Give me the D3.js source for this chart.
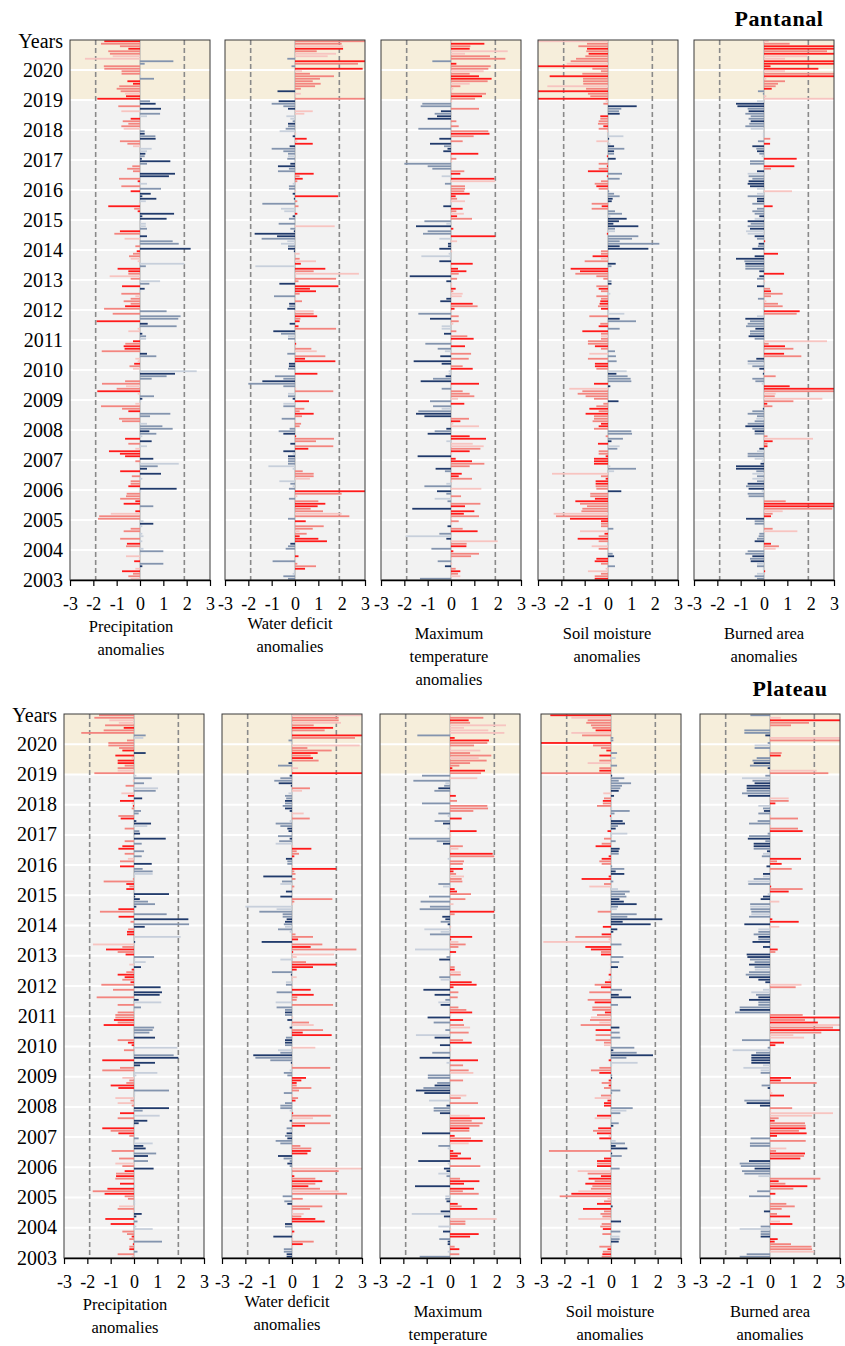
<!DOCTYPE html>
<html>
<head>
<meta charset="utf-8">
<script src="https://cdnjs.cloudflare.com/ajax/libs/d3/7.8.5/d3.min.js"></script>
<style>
body { margin: 0; background: #fff; }
svg text { font-family: 'Liberation Serif', 'Times New Roman', serif; fill: #000; }
</style>
</head>
<body>
<div id="chart"></div>
<script>
// ---- data: monthly anomalies, one row per year (Jan..Dec), 2003-2020 ----
const years = d3.range(2003, 2021);
const axisTicks = [-3, -2, -1, 0, 1, 2, 3];
const regionNames = ['Pantanal', 'Plateau'];
const varLabels = [['Precipitation', 'anomalies'], ['Water deficit', 'anomalies'],
    ['Maximum', 'temperature', 'anomalies'], ['Soil moisture', 'anomalies'], ['Burned area', 'anomalies']];
const redWhenNegative = [true, false, false, true, false]; // dry side of each variable
const thresholds = [-1.9, 1.9];
const highlightFrom = 2019;

// tone: D = dark, M = medium, L = light shade of the bar colour
const panPrecip = [
    [-0.4,-0.5,-0.3,-0.77,-0.2,0.1,1.0,-0.25,-0.05,-0.6,0.05,1.0],
    [0.15,-0.6,-0.56,0.1,-0.85,0.15,0.1,-0.7,-0.4,0.1,0.57,0.15],
    [-1.8,-1.75,-1.25,-0.2,0.05,0.57,-0.7,-0.2,-0.85,-0.6,-0.57,0.05],
    [1.57,-0.5,-0.4,-0.4,0.1,-0.35,0.9,-0.85,0.3,0.76,1.66,-0.2],
    [0.57,-0.64,-0.86,-1.33,-0.2,0.3,-0.5,0.5,-0.64,0.1,0.7,0.4],
    [1.4,0.96,0.3,-0.77,-0.9,0.43,1.3,-0.5,-0.77,-1.67,-0.2,0.05],
    [0.1,0.6,-0.1,-1.83,-1.0,-0.6,-1.63,-0.64,0.5,1.14,1.5,2.43],
    [-0.3,-0.45,-0.25,-0.1,-0.2,0.7,0.3,-1.64,-0.66,-0.7,-0.63,-0.3],
    [0.26,0.26,0.1,-0.5,-0.1,1.57,0.33,-1.86,1.64,1.74,-1.17,1.14],
    [-1.54,-0.64,-0.4,-0.7,-0.4,-0.2,-0.8,0.05,0.2,-0.77,0.4,0.86],
    [-0.4,-1.3,-0.5,-0.5,-0.96,0.25,1.9,-0.1,-0.4,-0.47,-0.3,-0.14],
    [2.17,-0.2,1.66,1.4,-0.66,0.3,-1.1,-0.86,0.3,0.25,0.25,0.05],
    [1.14,0.1,1.46,-0.1,-0.25,-1.36,-0.05,0.25,0.7,0.1,0.46,-0.4],
    [0.9,-0.8,0.3,-0.1,-0.9,1.24,1.5,-0.3,-0.55,-0.33,0.3,1.3],
    [0.08,0.2,0.23,0.3,0.5,-0.3,-0.54,-0.86,0.67,0.66,0.2,0.2],
    [-0.7,-0.8,-0.5,-0.74,-0.4,0.3,0.86,-0.8,0.9,-0.93,0.67,0.43],
    [-1.83,-0.6,-0.64,-0.83,-1.0,-0.89,-0.3,-0.54,0.6,0.05,-0.79,-0.79],
    [-1.53,-1.55,0.2,1.43,-2.36,-1.17,-1.29,-1.36,-0.5,-0.86,-1.67,-1.53]
];
const panPrecipTone = ['LMMDLDMDLLLM','LMDLMLLMMLDL','MMLDLMDDMMML','DDMMLMDDDMLM','DDDDLLMDDLMD','MMLMMMMDMMLL',
    'DMLDMLMMMMDL','LMDLLMDMDDMD','LMDLLMDDMMMM','MDMMMLMLDDML','MLMDDMLLLMMD','DMMMLDMDMLLL',
    'DDDDMDLLDDDD','MMLDMDDMMMMD','DMDLLLMMDMDM','LMMMDLMLDMDM','DDLMMMDDMLMM','MMMMLLMMDMMD'];

const panDeficit = [
    [-0.3,-0.5,-0.1,-0.05,0.43,0.9,0.1,-0.96,0.05,0.15,0.0,0.0],
    [-0.4,-0.3,-0.2,1.37,1.0,0.2,0.5,0.2,0.76,1.23,0.05,0.46],
    [-0.3,2.33,2.0,1.2,0.67,0.97,1.3,1.0,-0.26,0.1,2.0,3.0],
    [-0.26,-0.1,-0.2,-0.67,0.64,0.8,0.8,0.33,-0.1,-1.14,-0.3,-0.3],
    [-0.3,-0.3,-0.1,-0.5,0.57,1.64,-0.2,0.9,1.67,0.05,-0.5,-0.7],
    [-0.23,0.2,0.26,0.05,-0.57,0.3,0.8,0.2,0.4,-0.5,-0.5,0.6],
    [-0.1,-0.3,-0.3,1.64,0.05,-0.5,-2.0,-1.4,-0.5,-0.86,0.96,0.0],
    [-0.3,-0.26,-0.26,1.73,0.43,1.3,-0.33,0.93,0.7,0.05,0.05,0.0],
    [-0.3,-0.3,-0.6,-0.93,1.76,0.15,-0.23,0.2,0.23,0.95,0.8,0.8],
    [-0.33,-0.25,-0.25,0.3,0.05,-0.9,0.2,0.9,0.64,1.86,-0.67,0.15],
    [1.76,0.05,2.74,0.8,1.3,-1.7,0.25,0.9,0.2,0.0,0.2,-0.05],
    [-0.3,-0.3,-0.6,-0.33,-1.43,-0.77,-1.73,-0.05,-0.2,1.7,-0.7,-0.05],
    [-0.26,-0.1,0.1,-0.46,-0.6,0.15,-1.4,0.1,-0.05,1.85,-0.1,0.05],
    [-0.26,-0.26,-0.1,0.1,0.33,0.2,0.8,-0.73,-0.26,-0.73,-0.2,-0.05],
    [-0.33,-0.3,-0.3,-0.5,-1.0,-0.23,0.76,0.1,0.5,-0.1,0.05,-0.66],
    [-0.4,-0.3,-0.3,-0.1,-0.2,-0.37,0.4,0.76,-0.3,-0.5,-1.0,-0.7],
    [3.0,0.05,0.25,-0.75,0.25,0.86,1.1,0.76,1.07,1.67,0.64,0.3],
    [2.9,-0.15,2.7,3.0,-0.33,1.4,1.76,0.93,2.06,2.06,2.0,3.0]
];
const panDeficitTone = ['MMLLDMMMLDLL','MMDDDDMLMMLD','MMLMMDDMMLMD','MLMLLMMMLLMM','MDLDDMDMMDDM','MMMLMMDMMMLD',
    'DMLMLMMDMMDL','MDDDDMMLMLDL','MLMDMDDDMDML','DMDMLMMDDDDM','MLLMDLDLMLLD','DMLLMDDDMLML',
    'MDDLLMMMDDDL','MMLMDMDMMDDL','MLMMMDDLDDLL','MMDMLLLLDMMD','MLLDMMMMMMML','DMMDMLLMDLMM'];

const panTmax = [
    [-1.33,0.4,0.3,0.4,0.2,-0.26,0.05,-0.57,0.05,0.86,1.2,0.1],
    [-0.84,0.66,0.67,2.0,-0.2,-1.94,-0.5,1.14,0.5,-0.15,0.05,0.33],
    [0.05,1.2,0.55,1.0,-1.66,0.6,1.26,-0.15,-0.7,0.43,-0.2,-0.6],
    [1.3,-1.14,-0.2,0.05,0.9,0.33,0.46,-0.26,-0.66,0.8,1.43,0.9],
    [0.2,-1.43,0.05,0.8,1.26,1.4,0.93,-0.2,1.5,0.8,-1.0,-0.7],
    [-0.2,1.2,0.1,0.4,0.77,-1.14,-1.5,-1.4,-0.4,-0.77,0.57,-0.9],
    [0.3,1.0,0.8,0.5,-0.4,0.05,1.2,-1.3,-0.77,-0.23,-0.1,-0.1],
    [0.93,0.5,-0.4,-1.6,0.76,-0.46,0.86,-0.26,-0.57,0.6,-1.1,0.05],
    [0.97,0.7,-0.3,0.23,-0.4,-0.4,0.1,0.33,-0.9,0.33,-1.4,0.05],
    [0.15,1.14,0.93,-0.46,-0.2,0.46,0.5,0.1,0.2,0.05,0.05,-0.2],
    [0.26,-1.77,0.33,0.66,0.3,0.05,0.93,-0.5,-0.05,-1.27,-0.1,0.05],
    [-0.5,-0.13,-0.13,0.26,-0.5,1.9,-1.2,-1.0,0.1,-1.5,-0.2,-1.14],
    [0.9,0.26,0.55,0.23,0.5,-0.33,-0.05,0.6,0.26,0.2,0.8,0.57],
    [0.6,0.6,-0.26,1.9,1.86,-0.4,0.4,0.57,-0.8,-1.0,-2.0,0.05],
    [0.23,0.05,1.17,-0.33,-0.15,-0.3,-0.9,0.5,-0.5,0.97,1.65,1.6],
    [-1.4,0.33,0.05,0.23,-1.0,-0.6,-0.7,-0.43,1.2,-1.3,-1.23,0.05],
    [1.03,1.33,1.5,0.05,0.1,0.4,0.8,1.57,1.74,1.2,0.8,1.4],
    [1.6,1.7,0.23,-0.8,2.33,1.67,0.6,2.43,0.8,0.83,1.43,0.05]
];
const panTmaxTone = ['MLMDMDLMLMMD','MDMLDLMDMDLM','LMDDDDMMLMMD','LMLLMDDMDMMD','DDLDMLLLDDDM','DLLDMDDMLMDM',
    'LMMMMLDDMDLL','DMDDMDMLMDML','DMDMLLLMDMML','DMDDDLLMDLLD','MDMDDLDDLLLL','DDDLLDMMDDLM',
    'MDLMDDLLMDDM','MMMLDLDMMMML','MLDDDMDMDMDM','MMLMDDMDMMML','MDMLLMLMDDML','MMDMMMLLDMDL'];

const panSoil = [
    [-0.57,-0.57,-0.3,-0.86,-0.1,0.3,-0.3,-0.57,-0.5,0.26,0.2,0.05],
    [-0.4,-0.7,0.05,-0.4,-1.3,-0.4,-0.15,-1.2,0.23,-0.3,-0.3,-0.3],
    [-1.63,-2.23,-2.33,-1.14,-1.1,-0.9,-1.2,-1.4,-0.56,-0.76,-0.76,0.57],
    [-0.5,-0.53,-0.53,-0.53,-0.1,-0.3,-2.4,0.26,1.2,0.1,-0.6,-0.6],
    [-0.6,-0.1,-0.4,-0.4,0.4,0.5,-0.43,0.15,0.64,-0.1,1.03,1.0],
    [-0.6,-0.4,-0.3,-0.66,-0.6,-0.6,-0.96,-0.4,-0.8,-0.5,-0.2,0.45],
    [-0.6,-0.96,-1.3,-1.1,-1.66,0.1,-0.6,1.0,0.97,0.84,0.36,0.8],
    [-0.5,-0.56,-0.56,0.37,-0.86,0.34,-0.8,0.3,-0.3,-0.56,-0.86,-0.86],
    [-0.3,-0.3,-0.3,-1.1,0.5,-0.4,-0.33,1.2,0.5,-0.8,0.7,0.05],
    [-0.3,-0.43,-0.36,-0.33,-0.3,-0.5,0.1,-0.3,-0.4,-0.5,0.15,0.15],
    [-0.2,-0.5,-1.4,-1.2,-1.6,0.15,0.33,-1.0,-0.3,-0.66,-0.3,-0.3],
    [1.73,0.5,2.2,0.5,1.03,1.3,-0.05,0.3,0.3,1.3,0.23,0.47],
    [0.8,0.1,0.6,0.3,-0.7,-0.27,-0.7,0.16,0.2,0.5,0.26,0.05],
    [-0.4,-0.5,-0.57,-0.3,0.5,-0.05,0.6,-0.86,-0.4,-0.05,-0.4,0.05],
    [0.33,-0.05,0.26,0.26,0.7,0.26,0.1,-0.5,0.05,0.66,0.05,-0.05],
    [-0.4,-0.2,-0.43,-0.4,-0.33,-0.33,0.5,0.47,0.57,1.23,-0.2,-0.1],
    [-3.0,-0.76,-0.86,-3.0,-0.94,-2.6,-1.06,-1.07,-1.07,-2.5,-1.1,-0.3],
    [-0.67,-3.0,-1.77,-1.6,-1.37,-0.97,-0.83,-0.93,-0.9,-1.27,-0.9,-3.0]
];
const panSoilTone = ['DMMLLMMDDDML','MLLMDMDLMMMD','DMLMMMMDDMMD','MMDDDMLLMLDD','DDMMMLDDMMMM','MDDMMMDMDMMD',
    'MMMMLDDMMMDL','MDDMMMLMMDMM','MLMDMDMMDMLL','DMDDMMLMDMDM','MMMDDMDMLDMM','DDMMMMDLMDDD',
    'DLMMMDMDDMMM','MDMMMDMDMDML','DDMDMDLLDLLL','MDMMMDDMMDML','DMMDMLMMMDMM','MDLMMMDMDMML'];

const panBurn = [
    [-0.3,-0.4,-0.3,0.05,-0.05,-0.3,-0.3,-0.57,-0.6,-0.5,-0.8,-0.7],
    [0.5,0.64,0.3,-0.4,-0.3,-0.23,-0.2,1.43,0.37,-0.05,-0.4,-0.4],
    [-0.77,0.3,0.37,0.8,2.93,3.0,3.0,0.93,-0.05,-0.66,-0.7,-0.1],
    [-0.66,-0.77,-0.7,-0.3,-0.5,-0.3,-0.5,-0.33,-1.2,-1.2,-0.15,-0.1],
    [-0.4,-0.7,-0.7,-0.3,-0.2,0.15,0.15,0.37,2.1,0.15,-0.4,-0.4],
    [-0.5,-0.8,-0.7,-0.4,-0.33,-0.3,-0.7,-0.5,-0.05,0.36,0.14,1.26],
    [2.5,0.46,0.5,3.0,3.0,1.1,-0.1,-0.37,-0.5,0.5,-0.05,0.05],
    [-0.2,-0.5,-0.7,-0.7,-0.33,1.6,0.86,0.05,1.26,0.9,0.2,2.7],
    [-0.4,-0.66,-0.6,-0.6,-0.37,-0.77,-0.7,-0.6,-0.8,-0.3,1.4,1.53],
    [-0.05,0.8,0.6,0.1,-0.26,0.3,0.8,0.3,0.26,-0.3,-0.05,0.05],
    [-0.3,-0.2,0.86,-0.2,-0.8,-0.8,-0.8,-0.84,-1.2,-0.4,0.6,0.05],
    [-0.5,-0.26,-0.23,0.05,-0.3,-0.4,-0.7,-0.77,-0.6,-0.7,-0.57,-0.7],
    [-0.4,-0.2,-0.4,-0.5,-0.3,0.37,-0.5,-0.3,-0.3,-0.7,-0.3,1.2],
    [-0.3,-0.6,-0.7,-0.66,-0.5,-0.66,-0.7,-0.3,0.3,1.3,-0.6,-0.6],
    [1.4,-0.1,-0.2,-0.3,-0.33,-0.5,0.26,-0.26,0.27,-0.05,-0.05,0.0],
    [-0.57,-0.8,-0.63,-0.57,-0.66,-0.57,-0.8,-0.66,-0.7,-1.14,-1.2,-0.3],
    [3.0,0.1,-0.05,-0.26,0.33,0.5,0.6,0.9,0.1,3.0,3.0,0.9],
    [2.33,0.28,3.0,3.0,0.9,1.86,3.0,2.7,3.0,3.0,1.1,0.2]
];
const panBurnTone = ['MMLDLMLDMDMM','LMDDMMMLMLMM','DDMLMDDMLMML','DMDMLMLMDDDL','LMMLDDMDLMMD','MDMMLMMMDMDM',
    'LMLMDDLMMMDL','DMLMDMDLMDML','MDMMDMMMDLMD','LMMLMMMDMDLL','MDDDMMDMDDDL','DMDDMDLLDMMD',
    'LDMMMDMDDMLL','LDDDMMLDMDMM','DLMDMDDMMLLL','LMMDMMMDMDDL','LLMMDMMMLDML','DDDDLLDMDDML'];

const plaPrecip = [
    [-0.1,-0.7,0.15,-0.2,-0.2,-0.05,1.2,-0.2,-0.1,-0.3,-0.5,0.8],
    [0.1,-1.0,0.15,-1.23,0.1,0.33,-0.05,-0.7,-0.64,0.05,0.05,-0.26],
    [-0.4,-1.26,-1.77,-1.14,0.05,-0.6,-0.05,-0.8,-0.77,-0.77,-0.4,0.84],
    [-0.5,-0.8,0.6,-0.64,0.6,0.95,-0.96,0.5,0.4,0.8,0.05,0.2],
    [-0.2,-0.67,-1.0,-1.36,0.05,0.2,0.57,-0.7,1.1,-0.6,0.37,1.5],
    [-0.1,-0.7,-0.15,-0.8,0.05,0.05,1.5,-0.67,-1.0,-0.33,-0.2,-0.5],
    [0.1,1.0,-1.36,-0.6,0.26,0.9,-1.36,1.9,1.7,0.05,-0.43,1.86],
    [-0.1,-0.26,-0.7,0.9,0.05,0.66,0.8,0.86,-1.3,-0.7,-0.86,-0.8],
    [-0.8,-0.7,0.05,0.3,-0.7,1.17,0.2,-1.6,1.1,1.2,-0.9,1.14],
    [-1.4,-0.15,-0.5,-0.4,-0.7,-0.33,-0.1,0.3,-0.2,0.5,0.05,0.86],
    [-0.36,-0.7,-1.2,-0.5,-1.76,0.05,0.0,2.0,-0.3,-0.3,-0.25,0.46],
    [2.36,-0.15,2.33,-0.66,1.4,-1.46,-0.67,0.1,0.9,0.6,0.25,0.05],
    [1.5,0.05,-0.33,-0.2,-0.33,-1.3,-0.05,0.05,0.8,0.8,0.37,-0.6],
    [0.76,-0.6,-0.26,0.33,-0.4,0.43,-0.67,-0.5,0.33,-0.4,1.36,0.05],
    [0.26,0.23,-0.4,0.57,0.73,0.1,-0.57,-0.67,0.2,0.3,-0.1,-0.05],
    [-0.1,-0.6,0.35,-0.26,-0.54,0.93,1.03,-0.36,0.43,-0.05,0.76,0.1],
    [-1.7,-0.7,-0.7,-0.4,-0.7,-0.7,-0.1,-0.8,0.5,-0.5,-0.64,-1.1],
    [-1.1,-0.3,0.4,0.5,-2.26,-1.3,-0.44,-1.24,-0.65,-1.06,-1.7,-1.5]
];
const plaPrecipTone = ['LMMDMDMMDMML','LDMDDDLMLLLM','MDMDLDLMDMDD','MLMMDMMDDLLM','MDMDLDDMLDMD','MLMLLLMDDMML',
    'LLMMDDDDMLML','DDMDLMMMDMDM','MMLMMLDMDDMD','MDMDDMDDLLLM','DMDMLDLLDDMD','MMDDMMDDMMDD',
    'DLDMDMMLLMMD','DMLMMMDDMMDL','DMMLDDDMMMMD','LDDDLMLMMLML','MLMMDDLDDDMM','MMLMMMDMLLMM'];

const plaDeficit = [
    [-0.23,-0.23,-0.35,-0.35,0.05,0.46,0.93,0.05,-0.8,0.05,0.1,0.0],
    [-0.3,-0.3,1.4,1.0,0.4,0.5,0.05,0.77,1.3,-0.2,-0.33,0.46],
    [-0.4,2.36,2.0,1.2,0.7,1.0,1.3,1.0,0.1,0.05,2.0,3.0],
    [-0.1,-0.2,-0.1,-0.36,-0.6,0.66,0.8,0.83,0.36,-0.5,-0.7,-0.2],
    [-0.3,-0.23,-0.1,-0.23,0.56,1.63,-0.1,0.9,1.66,0.05,-0.1,-0.5],
    [-0.5,-0.3,0.15,0.26,0.05,-0.35,0.3,0.83,0.2,0.2,0.4,0.6],
    [-0.2,-0.35,-0.1,1.64,0.05,-0.05,-0.93,-1.57,-1.66,-0.5,-0.6,1.0],
    [-0.3,-0.3,-0.3,-0.26,1.7,0.46,1.33,-0.1,0.93,0.73,-0.2,0.05],
    [-0.3,-0.3,-0.3,-0.66,1.76,-0.7,0.2,0.23,0.93,-0.66,0.8,0.05],
    [-0.26,-0.26,0.05,0.2,-0.05,-0.86,0.2,0.9,1.9,0.6,-0.5,0.2],
    [1.8,0.05,2.76,0.8,1.3,-1.3,0.26,0.9,0.15,-0.1,-0.6,-0.3],
    [-0.35,-0.3,-0.23,-0.4,-0.4,-1.4,-0.66,-2.0,0.05,0.1,1.73,-0.5],
    [-0.05,-0.26,0.05,0.1,-0.5,-0.43,0.15,-1.23,0.15,0.1,1.9,0.05],
    [-0.2,-0.2,-0.26,0.1,0.3,0.2,0.83,0.05,-0.7,-0.55,-0.1,-0.6],
    [-0.05,-0.15,-0.2,-0.5,-0.7,-0.1,0.76,0.05,0.5,-0.1,-0.3,-0.4],
    [-0.3,-0.3,-0.25,-0.3,-0.15,0.43,0.77,-0.05,-0.57,-0.76,-0.5,-0.1],
    [3.0,0.05,0.26,-0.6,-0.15,1.14,0.9,0.8,1.1,1.7,0.66,2.9],
    [-0.05,-0.15,2.7,3.0,0.05,1.4,1.76,0.93,2.1,2.0,2.0,3.0]
];
const plaDeficitTone = ['DDMMLDMLDLDL','MDDDMLLMMDMM','MMLMDMDMDLML','MDMMDDDMMMMD','MDLMDMDLMDLM','MMDMLMMMMDDD',
    'MMLMLDMMDMLL','MDDMDDMDLMDL','MDMMMLMMDMDL','MLLLDMDDDMLL','LDMDMDDMMLML','MDDMMMLLLMMD',
    'LDLMLMMDMMDL','MMDDMMDLLMDM','LDDMMLMLLDDM','MDMMLLMDDMMD','DLLMDMDMDMML','LMMDLMDMLMML'];

const plaTmax = [
    [-1.3,0.4,-0.1,0.4,0.2,-0.1,-0.1,-0.46,0.86,1.23,-0.3,0.05],
    [-0.5,0.66,0.66,2.0,-0.26,-1.64,-0.4,1.17,0.5,0.33,-0.15,-0.2],
    [-0.2,1.23,0.55,1.03,-1.5,0.6,1.26,0.43,-0.15,-0.5,-0.15,-0.26],
    [1.3,-0.1,-1.36,0.9,0.33,0.47,0.14,-0.1,-0.5,0.8,1.4,0.9],
    [0.2,-1.2,0.83,0.83,1.26,1.4,0.93,1.5,0.85,-0.43,-0.7,-0.7],
    [-0.15,1.2,-0.9,0.46,0.7,-1.1,-1.46,-1.14,-0.66,-0.55,0.56,-0.95],
    [-0.95,1.0,0.8,0.05,0.56,-0.15,1.2,-1.3,-0.05,-0.76,0.05,0.05],
    [-0.43,0.93,0.56,-0.66,-1.46,0.8,-0.2,0.86,0.6,-0.7,0.56,-0.96],
    [0.05,0.95,0.7,0.36,-0.4,-0.5,-0.2,0.33,-0.66,0.36,-1.14,0.15],
    [1.14,0.93,-0.4,-0.46,0.46,0.46,0.2,0.2,0.0,-0.05,-0.46,-0.15],
    [0.05,0.26,-1.5,0.36,0.67,0.36,0.05,0.95,-0.86,-0.4,-1.1,0.05],
    [-0.1,-0.4,-0.2,-0.33,0.2,1.9,-1.3,-0.86,0.15,-1.26,0.66,-0.9],
    [0.9,0.3,0.2,-0.3,-0.5,0.53,0.5,0.6,0.26,0.15,0.55,0.05],
    [0.55,0.6,-0.1,1.9,1.83,0.05,0.36,0.55,-0.3,-0.57,-1.76,0.05],
    [0.05,1.14,-0.1,-0.05,-0.3,-0.66,0.5,-0.1,-0.5,1.0,1.63,1.6],
    [-1.2,0.3,0.05,0.25,0.05,-0.67,-0.5,-0.25,-0.2,-1.57,1.17,-1.2],
    [1.33,1.5,0.1,0.4,0.86,1.57,1.23,1.77,0.86,1.3,0.05,1.03],
    [1.6,1.67,0.2,-1.4,2.33,1.64,0.6,2.4,0.86,0.8,1.43,0.05]
];
const plaTmaxTone = ['MMLDMDDMDDDL','LMMLDLDDMDDM','LMMDDDDMMLDD','MLDDDDDLMLDM','DDMDMMMDLDMM','DMLMLDDMDMMM',
    'MLMLMLDDLMLL','DDMDLMMLMMDD','LDMMDLMMDMDD','DDLMMLDMLLDM','LDLMMLDDMLLL','DMDDMDMMLMMM',
    'MDDLMMMLMDDL','MMLMDLLMDMML','LDLLDMDLMMMM','MMLDLMDMLMLM','MDDMMMLMMLLM','MDDMLLLLMDML'];

const plaSoil = [
    [-0.4,-0.37,-0.35,-0.15,-0.5,0.05,0.33,0.37,0.37,-0.37,0.4,-0.35],
    [-0.46,-0.4,0.43,-1.4,-0.37,-0.45,-0.3,-1.2,0.07,-0.6,-0.3,-0.15],
    [-2.2,-1.7,-1.4,-0.86,-0.8,-1.1,-0.7,-0.96,-0.43,-1.0,-1.43,0.37],
    [-0.6,-0.6,-0.6,-0.3,0.46,0.05,-2.66,0.7,0.2,0.6,0.2,-0.5],
    [-0.1,-0.6,-0.77,-0.55,0.1,0.33,0.05,-0.7,-0.6,0.4,0.66,0.93],
    [-0.3,-0.3,-0.15,-0.7,-0.43,0.05,0.4,-0.3,-0.1,-0.4,-0.1,0.05],
    [0.05,-0.5,-0.86,-0.5,0.05,1.14,-0.1,0.66,1.8,1.1,0.1,1.0],
    [-0.3,-0.3,-0.66,0.4,-0.66,0.37,-0.66,0.36,-1.3,-0.5,-0.9,-0.86],
    [-0.6,-0.26,-0.8,-0.8,0.3,-0.7,-1.0,0.86,0.33,-0.93,0.47,-0.43],
    [-0.7,-0.26,-0.1,0.05,-0.1,-0.05,-0.05,0.3,-0.05,0.35,0.05,0.53],
    [-0.43,-0.43,-0.86,-1.1,0.45,-2.9,-0.1,-1.53,-0.4,0.1,0.27,-0.35],
    [1.7,0.5,2.2,0.7,1.1,-0.57,0.25,0.3,1.1,0.55,0.36,0.66],
    [0.6,0.8,0.3,-0.93,-0.3,0.1,-1.26,-0.1,0.57,0.2,0.57,0.05],
    [-0.4,-0.5,-0.4,-0.1,0.33,0.33,0.37,-0.66,-0.4,0.2,-0.3,0.05],
    [0.7,-0.15,0.2,0.3,0.6,0.5,0.05,-0.05,0.15,0.8,0.05,-0.6],
    [-0.35,-0.35,-0.3,0.13,-0.33,0.33,0.4,0.47,0.86,0.33,0.57,0.05],
    [-3.0,-0.5,-0.5,0.26,-1.0,-0.5,0.2,-0.5,0.26,-0.2,-0.43,-0.77],
    [-3.0,0.1,0.1,-1.24,-1.7,-0.66,-0.8,-0.86,-1.06,-1.0,-1.7,-2.6]
];
const plaSoilTone = ['MDMDMLDMLMMD','MMDLMMMDDDML','MDLMMDMDDMLM','DMDDMDMDDMLD','LDMDDMLLDMLM','DDDLMMMMDMDD',
    'MDMMLLDMDMDM','LMMMMMDDMLML','MDMMMDMDDMMD','MDLLDLLDLMLM','DMDDMLLMDDDD','DDDMMMLMDDDM',
    'MMLLMMDDDDMM','MMDDMDDDMMML','LDDMDDLDMMLM','MDMDLDMMMMMD','MDMMLMLDMDMM','DMMMLDMMMMLD'];

const plaBurn = [
    [-1.3,-1.0,1.9,1.8,1.78,0.9,0.2,0.33,-0.4,-0.4,-0.4,-1.3],
    [-0.4,0.96,0.43,-0.05,0.86,0.3,-0.26,0.5,1.06,0.7,-0.05,0.05],
    [-0.9,0.23,-0.55,1.0,1.6,0.66,0.37,2.16,-0.5,-1.1,-1.2,-0.66],
    [-1.25,-1.3,-0.9,1.3,1.46,1.5,0.26,0.7,-0.86,-0.86,1.53,-0.83],
    [0.3,1.57,1.24,1.53,1.53,1.5,0.2,0.37,1.8,2.7,0.05,0.95],
    [-0.43,-1.0,-1.1,0.05,0.6,0.1,0.05,-0.1,-0.36,2.0,0.46,0.9],
    [0.05,-0.4,-0.4,-1.14,-0.3,-0.8,-0.8,-0.8,-0.8,-0.6,-1.6,-0.1],
    [0.23,0.6,-1.2,1.46,1.0,2.2,3.0,2.7,3.0,2.05,1.5,3.0],
    [1.4,-1.5,-1.3,-1.3,-0.5,-0.5,-0.9,-0.5,-0.6,-0.8,-0.3,1.1],
    [1.35,-0.2,-0.5,-0.9,-1.04,-0.9,-0.65,-0.66,-0.9,-0.66,-0.86,-0.97],
    [-1.0,0.23,0.33,-0.3,0.05,-0.75,-0.5,-0.5,-0.7,-0.5,-0.5,0.4],
    [-1.1,1.23,0.1,-0.9,-0.8,-0.8,-0.84,-0.85,-0.85,0.4,-0.4,-0.3],
    [-0.1,0.8,1.4,0.05,-0.93,-0.95,-0.7,-0.3,-0.3,0.05,0.93,-0.15],
    [0.5,0.3,1.33,-0.35,-0.3,-0.13,-0.7,-0.7,-0.7,-0.2,-0.95,-0.9],
    [-0.1,1.4,1.2,0.05,-0.9,-0.53,1.2,0.05,-0.5,-0.26,-0.3,-0.5],
    [0.23,0.8,0.8,-0.95,-1.2,-1.0,-1.0,-1.0,-0.66,-0.75,-1.2,-0.2],
    [2.5,2.0,-0.1,-0.86,-0.7,-0.75,-0.57,0.46,0.5,-0.05,-0.66,-0.66],
    [-0.1,3.0,3.0,-0.2,-1.1,-1.1,0.05,0.9,1.67,3.0,0.46,-0.84]
];
const plaBurnTone = ['MMLMMMDDDMML','MDLLDMDMMMLL','MDMMDMDMLMMD','MMDDMDMLMMMM','DDMDMMDMLLLM','DDMLDLLDMMDD',
    'LMLLLDDDDMLM','DDMLLMDMLDMD','MMDMMMDDMLLM','LDDDMMLMDMMD','DMDDLDMDMMLL','DDDMLMMLMLDD',
    'LDMDMLMLDLMD','DMDMLDMDDMDM','MDMLMMMLMDML','DMLDMMDDDMLM','MLDMDMMDMLML','MMLDMMLMMDLM'];

// ---- layout ----
const W = 845, H = 1346;
const colors = {
    dry: {D: '#ff1a1a', M: '#f3857f', L: '#f7c4c0'},
    wet: {D: '#203a6b', M: '#8394ae', L: '#c7cfdb'}
};
const panelW = 140;
const regions = [
    {name: regionNames[0], top: 40, bottom: 580, lefts: [70, 225, 381, 538, 694], titleX: 779, titleY: 26,
        series: [panPrecip, panDeficit, panTmax, panSoil, panBurn],
        tones: [panPrecipTone, panDeficitTone, panTmaxTone, panSoilTone, panBurnTone]},
    {name: regionNames[1], top: 714, bottom: 1258, lefts: [64, 222, 380, 541, 700], titleX: 790, titleY: 696,
        series: [plaPrecip, plaDeficit, plaTmax, plaSoil, plaBurn],
        tones: [plaPrecipTone, plaDeficitTone, plaTmaxTone, plaSoilTone, plaBurnTone]}
];
const labelOffsets = [46, 43.5, 53, 53, 53];
const labelShift = [-9, -5, -2, -1, 0];

const svg = d3.select('#chart').append('svg')
    .attr('width', W)
    .attr('height', H);

regions.forEach(function (reg) {
    let y = d3.scaleLinear()
        .domain([2003, 2021])
        .range([reg.bottom, reg.top]);
    let slot = (y(2003) - y(2003 + 1 / 12));

    reg.lefts.forEach(function (left, p) {
        let x = d3.scaleLinear()
            .domain([-3, 3])
            .range([left, left + panelW])
            .clamp(true);
        let g = svg.append('g');
        let rows = [];
        reg.series[p].forEach(function (yr, yi) {
            yr.forEach(function (v, m) {
                rows.push({t: years[yi] + m / 12, v: v, tone: reg.tones[p][yi][m]});
            });
        });

        g.append('rect') // grey plot area
            .attr('x', left).attr('y', reg.top)
            .attr('width', panelW).attr('height', reg.bottom - reg.top)
            .attr('fill', '#f2f2f2');
        g.append('rect') // highlighted recent years
            .attr('x', left).attr('y', reg.top)
            .attr('width', panelW).attr('height', y(highlightFrom) - reg.top)
            .attr('fill', '#f6eedb');
        g.selectAll('.grid') // white year gridlines
            .data(years.slice(1)).enter().append('line')
            .attr('x1', left).attr('x2', left + panelW)
            .attr('y1', d => y(d)).attr('y2', d => y(d))
            .attr('stroke', '#fff').attr('stroke-width', 2);
        g.selectAll('.thr') // dashed thresholds
            .data(thresholds).enter().append('line')
            .attr('x1', d => x(d)).attr('x2', d => x(d))
            .attr('y1', reg.top).attr('y2', reg.bottom)
            .attr('stroke', '#8a8a8a').attr('stroke-width', 1.6)
            .attr('stroke-dasharray', '5,3');
        g.append('line') // zero line
            .attr('x1', x(0)).attr('x2', x(0))
            .attr('y1', reg.top).attr('y2', reg.bottom)
            .attr('stroke', '#a6a6a6').attr('stroke-width', 1);
        g.selectAll('.bar') // monthly bars
            .data(rows).enter().append('rect')
            .attr('x', d => x(Math.min(0, d.v)))
            .attr('width', d => Math.abs(x(d.v) - x(0)))
            .attr('y', d => y(d.t + 1 / 12) + slot * 0.14)
            .attr('height', slot * 0.72)
            .attr('fill', function (d) {
                let dry = redWhenNegative[p] ? d.v < 0 : d.v > 0;
                return (dry ? colors.dry : colors.wet)[d.tone];
            });
        g.append('rect') // panel border
            .attr('x', left).attr('y', reg.top)
            .attr('width', panelW).attr('height', reg.bottom - reg.top)
            .attr('fill', 'none').attr('stroke', '#3a3a3a').attr('stroke-width', 1);

        let ax = g.append('g') // x axis
            .attr('transform', 'translate(0,' + reg.bottom + ')')
            .call(d3.axisBottom(x).tickValues(axisTicks).tickSize(6).tickSizeOuter(0)
                .tickPadding(11).tickFormat(d => String(d)));
        ax.select('.domain').attr('stroke', '#000').attr('stroke-width', 1.3);
        ax.selectAll('.tick line').attr('stroke', '#000').attr('stroke-width', 1.2);
        ax.selectAll('.tick text')
            .style('font-family', "'Liberation Serif', 'Times New Roman', serif")
            .style('font-size', '18px').attr('fill', '#000');

        // variable label under the axis; lines falling below the page are left out
        let lines = varLabels[p].filter((d, i) => reg.bottom + labelOffsets[p] + i * 23 + 5.5 < H - 4);
        g.selectAll('.lab')
            .data(lines).enter().append('text')
            .attr('x', left + panelW / 2 + labelShift[p])
            .attr('y', (d, i) => reg.bottom + labelOffsets[p] + i * 23 + 5.5)
            .attr('text-anchor', 'middle')
            .style('font-size', '16.5px')
            .text(d => d);

        if (p === 0) {
            g.selectAll('.yr') // year labels
                .data(years).enter().append('text')
                .attr('x', left - 7).attr('y', d => y(d) + 6.5)
                .attr('text-anchor', 'end')
                .style('font-size', '20px')
                .text(d => d);
            g.append('text')
                .attr('x', left - 7).attr('y', y(2021) + 8)
                .attr('text-anchor', 'end')
                .style('font-size', '20px')
                .text('Years');
        }
    });

    svg.append('text') // region title
        .attr('x', reg.titleX).attr('y', reg.titleY)
        .attr('text-anchor', 'middle')
        .style('font-size', '22px').style('font-weight', 'bold')
        .style('letter-spacing', '0.6px')
        .text(reg.name);
});
</script>
</body>
</html>
